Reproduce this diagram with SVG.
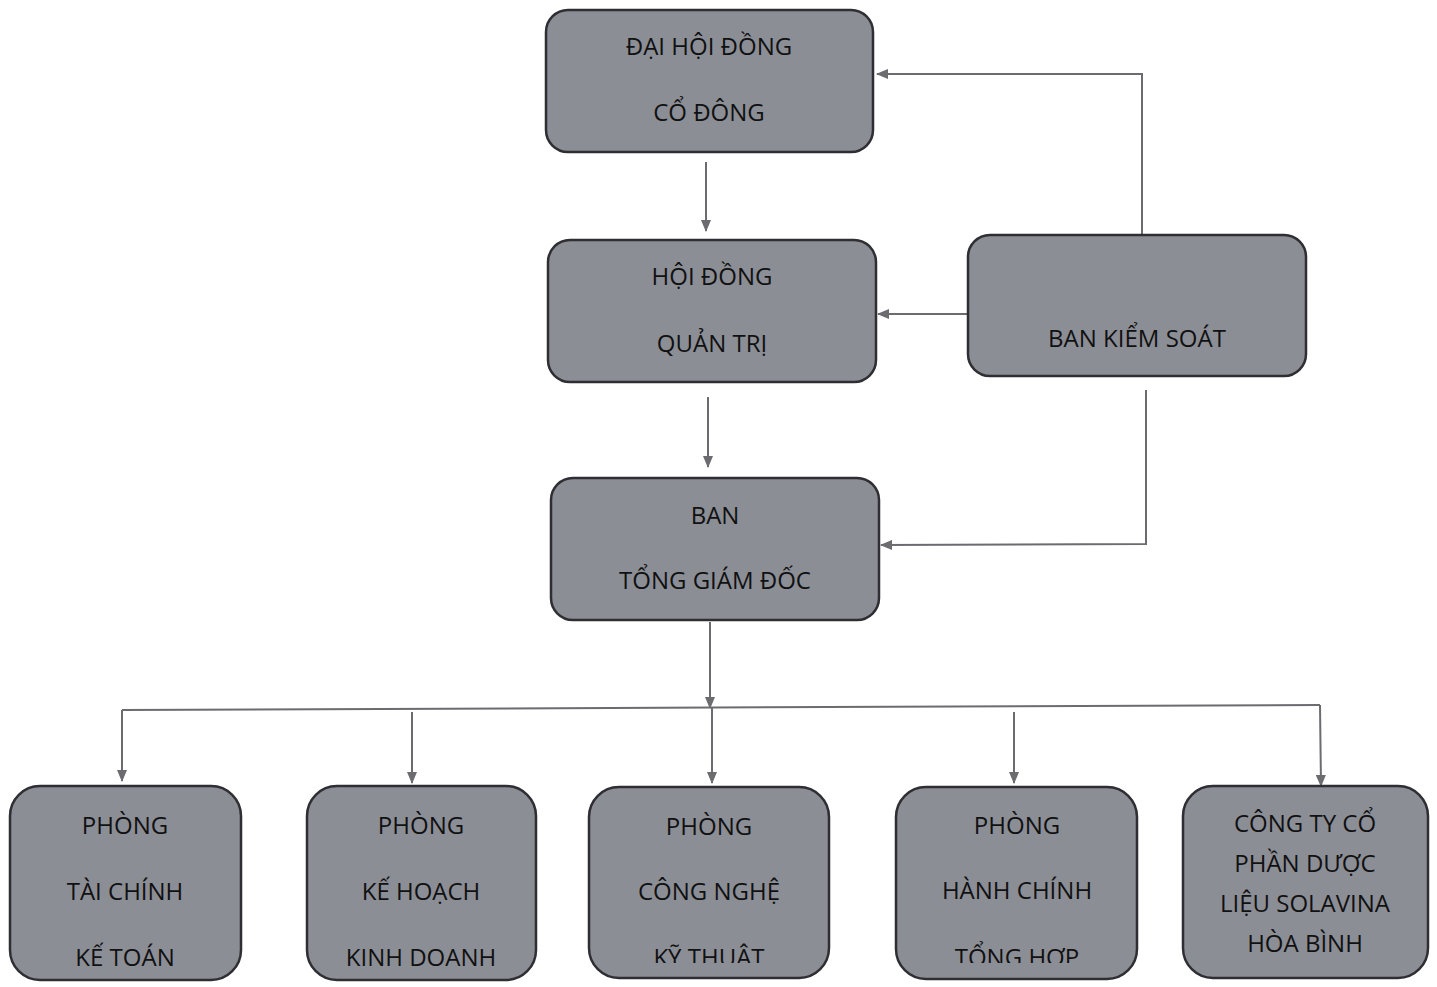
<svg xmlns="http://www.w3.org/2000/svg" width="1437" height="987" viewBox="0 0 1437 987">
<defs>
<style>
.box{fill:#8c8e96;stroke:#2e2e33;stroke-width:2.5}
.t{font-family:"Open Sans","Noto Sans",sans-serif;font-size:24px;fill:#111;text-anchor:middle;dominant-baseline:central}
.c{fill:none;stroke:#6b6b70;stroke-width:2}
</style>
<marker id="ah" viewBox="0 0 12 10" refX="11" refY="5" markerWidth="12" markerHeight="10" markerUnits="userSpaceOnUse" orient="auto">
<path d="M0,0 L12,5 L0,10 Z" fill="#6b6b70"/>
</marker>
<clipPath id="cl3"><rect x="589" y="787" width="241" height="176"/></clipPath>
<clipPath id="cl4"><rect x="896" y="787" width="242" height="176"/></clipPath>
</defs>
<rect width="1437" height="987" fill="#ffffff"/>
<g id="connectors">
<line class="c" x1="706" y1="162" x2="706" y2="231" marker-end="url(#ah)"/>
<line class="c" x1="708" y1="397" x2="708" y2="467" marker-end="url(#ah)"/>
<polyline class="c" points="1142,234 1142,74 877,74" marker-end="url(#ah)"/>
<line class="c" x1="968" y1="314" x2="878" y2="314" marker-end="url(#ah)"/>
<polyline class="c" points="1146,390 1146,544 881,545" marker-end="url(#ah)"/>
<line class="c" x1="710" y1="622" x2="710" y2="708" marker-end="url(#ah)"/>
<line class="c" x1="122" y1="710" x2="1320" y2="705"/>
<line class="c" x1="122" y1="710" x2="122" y2="781" marker-end="url(#ah)"/>
<line class="c" x1="412" y1="712" x2="412" y2="783" marker-end="url(#ah)"/>
<line class="c" x1="712" y1="708" x2="712" y2="783" marker-end="url(#ah)"/>
<line class="c" x1="1014" y1="712" x2="1014" y2="783" marker-end="url(#ah)"/>
<line class="c" x1="1320" y1="705" x2="1321" y2="786" marker-end="url(#ah)"/>
</g>
<g id="dhdcd">
<rect class="box" x="546" y="10" width="327" height="142" rx="22"/>
<text class="t" x="709" y="45">ĐẠI HỘI ĐỒNG</text>
<text class="t" x="709" y="111">CỔ ĐÔNG</text>
</g>
<g id="hdqt">
<rect class="box" x="548" y="240" width="328" height="142" rx="22"/>
<text class="t" x="712" y="275">HỘI ĐỒNG</text>
<text class="t" x="712" y="342">QUẢN TRỊ</text>
</g>
<g id="bks">
<rect class="box" x="968" y="235" width="338" height="141" rx="22"/>
<text class="t" x="1137" y="337">BAN KIỂM SOÁT</text>
</g>
<g id="btgd">
<rect class="box" x="551" y="478" width="328" height="142" rx="22"/>
<text class="t" x="715" y="514">BAN</text>
<text class="t" x="715" y="579">TỔNG GIÁM ĐỐC</text>
</g>
<g id="tckt">
<rect class="box" x="10" y="786" width="231" height="194" rx="30"/>
<text class="t" x="125" y="824">PHÒNG</text>
<text class="t" x="125" y="890">TÀI CHÍNH</text>
<text class="t" x="125" y="956">KẾ TOÁN</text>
</g>
<g id="khkd">
<rect class="box" x="307" y="786" width="229" height="194" rx="30"/>
<text class="t" x="421" y="824">PHÒNG</text>
<text class="t" x="421" y="890">KẾ HOẠCH</text>
<text class="t" x="421" y="956">KINH DOANH</text>
</g>
<g id="cnkt">
<rect class="box" x="589" y="787" width="240" height="191" rx="30"/>
<text class="t" x="709" y="825">PHÒNG</text>
<text class="t" x="709" y="890">CÔNG NGHỆ</text>
<text class="t" x="709" y="956" clip-path="url(#cl3)">KỸ THUẬT</text>
</g>
<g id="hcth">
<rect class="box" x="896" y="787" width="241" height="192" rx="30"/>
<text class="t" x="1017" y="824">PHÒNG</text>
<text class="t" x="1017" y="889">HÀNH CHÍNH</text>
<text class="t" x="1017" y="956" clip-path="url(#cl4)">TỔNG HỢP</text>
</g>
<g id="solavina">
<rect class="box" x="1183" y="786" width="245" height="192" rx="30"/>
<text class="t" x="1305" y="822">CÔNG TY CỔ</text>
<text class="t" x="1305" y="862">PHẦN DƯỢC</text>
<text class="t" x="1305" y="902">LIỆU SOLAVINA</text>
<text class="t" x="1305" y="942">HÒA BÌNH</text>
</g>
</svg>
